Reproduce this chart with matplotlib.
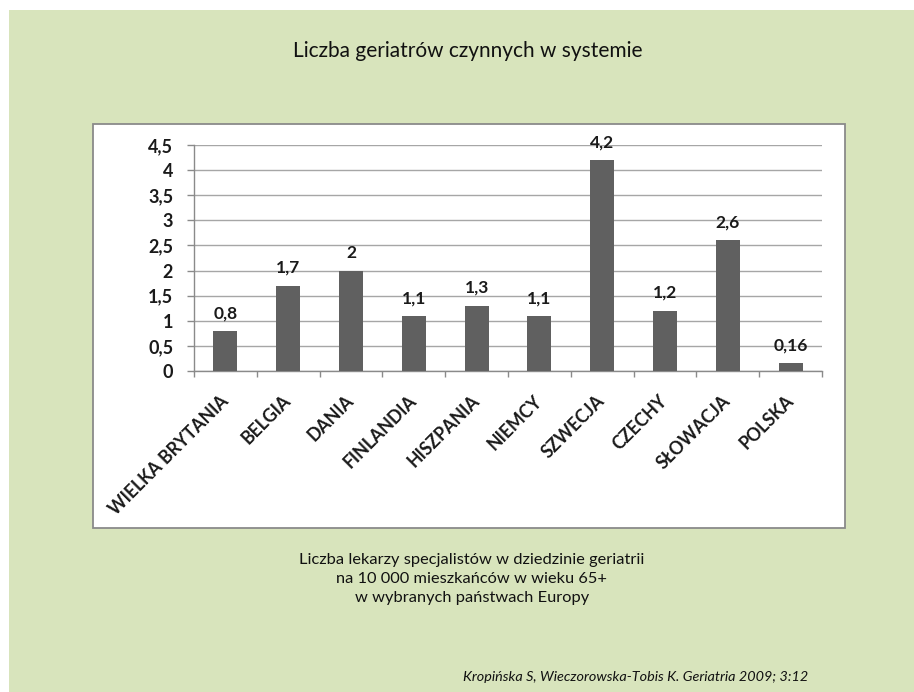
import matplotlib
matplotlib.use("Agg")
import matplotlib.pyplot as plt
from matplotlib.patches import Rectangle
from matplotlib.ticker import FixedLocator

countries = ["WIELKA BRYTANIA", "BELGIA", "DANIA", "FINLANDIA", "HISZPANIA",
             "NIEMCY", "SZWECJA", "CZECHY", "SŁOWACJA", "POLSKA"]
values = [0.8, 1.7, 2.0, 1.1, 1.3, 1.1, 4.2, 1.2, 2.6, 0.16]
value_labels = ["0,8", "1,7", "2", "1,1", "1,3", "1,1", "4,2", "1,2", "2,6", "0,16"]
y_ticks = [0, 0.5, 1, 1.5, 2, 2.5, 3, 3.5, 4, 4.5]
y_tick_labels = ["0", "0,5", "1", "1,5", "2", "2,5", "3", "3,5", "4", "4,5"]

title = "Liczba geriatrów czynnych w systemie"
subtitle = ("Liczba lekarzy specjalistów w dziedzinie geriatrii\n"
            "na 10 000 mieszkańców w wieku 65+\n"
            "w wybranych państwach Europy")
citation = "Kropińska S, Wieczorowska-Tobis K. Geriatria 2009; 3:12"

W, H = 914, 692
plt.rcParams['font.family'] = ['Lato', 'DejaVu Sans']
fig = plt.figure(figsize=(W / 100, H / 100), dpi=100)
fig.patch.set_facecolor("white")

def fx(px):
    return px / W

def fy(py):
    return 1 - py / H

# green slide background
fig.patches.append(Rectangle((fx(9), 0), 1 - fx(9), fy(10), transform=fig.transFigure,
                             facecolor="#D8E4BC", edgecolor="none", zorder=0))
# chart box
fig.patches.append(Rectangle((fx(93), fy(528)), fx(845) - fx(93), fy(124) - fy(528),
                             transform=fig.transFigure, facecolor="white",
                             edgecolor="#8a8a8a", linewidth=1.3, zorder=1))

ax = fig.add_axes([fx(194), fy(371), fx(822) - fx(194), fy(145) - fy(371)])
ax.set_facecolor("none")
ax.set_zorder(2)

x = list(range(len(countries)))
ax.bar(x, values, width=0.38, color="#606060", zorder=3)
for xi, v, lab in zip(x, values, value_labels):
    ax.annotate(lab, (xi, v), xytext=(0, 7), textcoords="offset points",
                ha="center", va="bottom", fontsize=12.5, fontweight="bold", color="#1a1a1a")

ax.set_xlim(-0.5, len(countries) - 0.5)
ax.set_ylim(0, 4.5)
ax.set_yticks(y_ticks)
ax.set_yticklabels(y_tick_labels, fontsize=13, fontweight="bold", color="#1a1a1a")
ax.grid(axis="y", color="#a6a6a6", linewidth=1, zorder=0)
ax.set_axisbelow(True)

ax.set_xticks(x)
ax.set_xticklabels(countries, rotation=45, ha="right", va="center", rotation_mode="anchor",
                   fontsize=12.8, fontweight="bold", color="#1a1a1a")
ax.xaxis.set_minor_locator(FixedLocator([i - 0.5 for i in range(len(countries) + 1)]))
ax.tick_params(axis="x", which="major", length=0, pad=19.5)
ax.tick_params(axis="x", which="minor", length=4.5, color="#8a8a8a", width=1)
ax.tick_params(axis="y", which="major", length=5, color="#8a8a8a", width=1, pad=10)

for s in ["top", "right"]:
    ax.spines[s].set_visible(False)
for s in ["left", "bottom"]:
    ax.spines[s].set_color("#8a8a8a")
    ax.spines[s].set_linewidth(1)

fig.text(fx(468), fy(51), title, ha="center", va="center", fontsize=15, color="#111111")
fig.text(fx(472), fy(579), subtitle, ha="center", va="center", fontsize=11.8,
         color="#111111", linespacing=1.45)
fig.text(fx(808), fy(677), citation, ha="right", va="center", fontsize=10.4,
         style="italic", color="#111111")

fig.savefig("out.png", dpi=100, facecolor=fig.get_facecolor())
